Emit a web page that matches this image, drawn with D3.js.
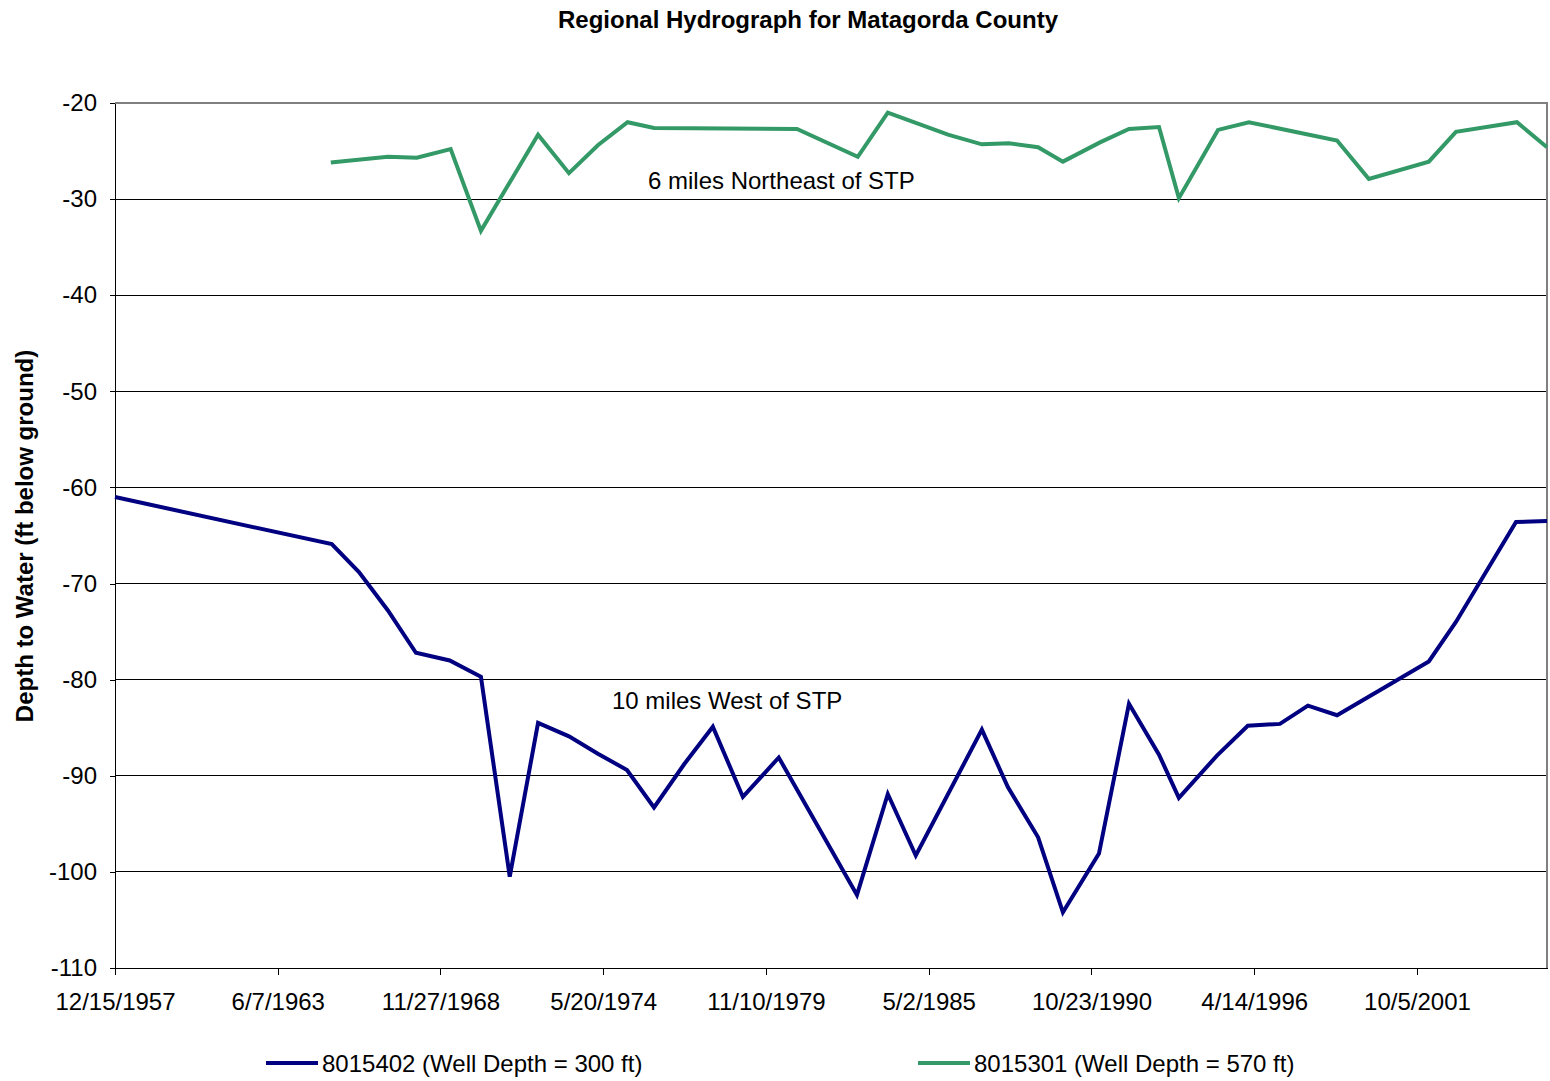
<!DOCTYPE html>
<meta charset="utf-8">
<head>
<style>
  body { margin: 0; background: #fff; }
  text { font-family: "Liberation Sans", Arial, sans-serif; fill: #000; }
  .axis path, .axis line { fill: none; stroke: #000; shape-rendering: crispEdges; }
  .grid line { stroke: #000; shape-rendering: crispEdges; }
</style>
</head>
<body>
<script src="https://cdnjs.cloudflare.com/ajax/libs/d3/7.8.5/d3.min.js"></script>
<script>

// well 8015402 (10 miles West of STP)
const westDates = ["1957-12-15","1965-04-01","1966-03-01","1967-02-20","1968-01-30","1969-03-20",
  "1970-04-08","1971-03-28","1972-03-10","1973-03-25","1974-03-15","1975-03-08","1976-02-03",
  "1977-02-07","1978-01-26","1979-01-30","1980-04-15","1982-12-02","1983-12-16","1984-11-24",
  "1987-02-14","1988-01-01","1989-01-05","1989-11-06","1991-01-23","1992-01-27","1993-01-30",
  "1993-10-01","1995-01-12","1996-01-26","1997-02-24","1998-02-03","1999-01-27","2002-02-28",
  "2003-01-27","2005-02-03","2006-02-19"];
const westDepth = [-61.0,-65.9,-68.8,-72.8,-77.2,-78.0,-79.7,-100.5,-84.5,-85.9,-87.7,-89.4,-93.3,
  -88.8,-84.9,-92.2,-88.1,-102.4,-91.9,-98.3,-85.2,-91.2,-96.4,-104.2,-98.1,-82.5,-87.8,-92.3,
  -87.9,-84.8,-84.6,-82.7,-83.7,-78.1,-74.0,-63.6,-63.5];

// well 8015301 (6 miles Northeast of STP)
const neDates = ["1965-03-20","1967-02-20","1968-02-10","1969-04-01","1970-04-08","1972-03-10",
  "1973-03-25","1974-03-15","1975-03-15","1976-02-03","1980-11-25","1982-12-12","1983-12-16",
  "1985-12-25","1987-02-14","1988-01-12","1989-01-05","1989-11-06","1991-02-05","1992-01-27",
  "1993-01-30","1993-10-01","1995-01-25","1996-02-08","1999-01-27","2000-02-22","2002-02-28",
  "2003-01-27","2005-02-15","2006-02-19"];
const neDepth = [-26.2,-25.6,-25.7,-24.8,-33.3,-23.3,-27.3,-24.4,-22.0,-22.6,-22.7,-25.6,-21.0,
  -23.3,-24.3,-24.2,-24.6,-26.1,-24.1,-22.7,-22.5,-29.9,-22.8,-22.0,-23.9,-27.9,-26.1,-23.0,
  -22.0,-24.6];

const yTicks = [-20,-30,-40,-50,-60,-70,-80,-90,-100,-110];
const xStart = "1957-12-15", xEnd = "2006-02-19", xStepDays = 2000;

const seriesNames = ["8015402 (Well Depth = 300 ft)", "8015301 (Well Depth = 570 ft)"];
const colors = ["#000080", "#339966"];

const parse = d3.utcParse("%Y-%m-%d");
const fmt = d3.utcFormat("%-m/%-d/%Y");

const margin = {top: 103, right: 3, bottom: 113, left: 115},
    width = 1550 - margin.left - margin.right,
    height = 1081 - margin.top - margin.bottom;

const svg = d3.select("body").append("svg")
    .attr("width", 1550)
    .attr("height", 1081);

const g = svg.append("g")
    .attr("transform", "translate(" + margin.left + "," + margin.top + ")");

const x = d3.scaleUtc().domain([parse(xStart), parse(xEnd)]).range([0, width]);
const y = d3.scaleLinear().domain([-110, -20]).range([height, 0]);

const xTicks = [];
for (let d = parse(xStart); d < parse(xEnd); d = d3.utcDay.offset(d, xStepDays)) xTicks.push(d);

// gridlines
g.append("g").attr("class", "grid")
  .selectAll("line")
  .data(yTicks.slice(0, -1))
  .join("line")
    .attr("x1", 0).attr("x2", width)
    .attr("y1", d => y(d)).attr("y2", d => y(d));

// plot border top/right
g.append("path")
    .attr("d", `M0,0H${width}V${height}`)
    .attr("fill", "none")
    .attr("stroke", "#808080")
    .attr("stroke-width", 2)
    .attr("shape-rendering", "crispEdges");

const xAxis = g.append("g").attr("class", "axis")
    .attr("transform", "translate(0," + height + ")")
    .call(d3.axisBottom(x).tickValues(xTicks).tickFormat(fmt).tickSize(7).tickSizeOuter(0).tickPadding(18));
xAxis.selectAll("text").style("font-size", "24px");

const yAxis = g.append("g").attr("class", "axis")
    .call(d3.axisLeft(y).tickValues(yTicks).tickFormat(d => String(d)).tickSize(5).tickSizeOuter(0).tickPadding(13));
yAxis.selectAll("text").style("font-size", "24px");

// lines
const line = d3.line().x(d => x(d.date)).y(d => y(d.value));
const series = [
  westDates.map((d, i) => ({date: parse(d), value: westDepth[i]})),
  neDates.map((d, i) => ({date: parse(d), value: neDepth[i]}))
];
g.selectAll(".series")
  .data(series)
  .join("path")
    .attr("class", "series")
    .attr("fill", "none")
    .attr("stroke", (d, i) => colors[i])
    .attr("stroke-width", 4)
    .attr("stroke-linejoin", "miter")
    .attr("d", line);

// annotations
svg.append("text").attr("x", 648).attr("y", 189)
    .style("font-size", "24px").text("6 miles Northeast of STP");
svg.append("text").attr("x", 612).attr("y", 709)
    .style("font-size", "24px").text("10 miles West of STP");

// title
svg.append("text").attr("x", 808).attr("y", 28)
    .attr("text-anchor", "middle")
    .style("font-size", "24px").style("font-weight", "bold")
    .text("Regional Hydrograph for Matagorda County");

// y label
svg.append("text")
    .attr("transform", "translate(33,536) rotate(-90)")
    .attr("text-anchor", "middle")
    .style("font-size", "24px").style("font-weight", "bold")
    .text("Depth to Water (ft below ground)");

// legend
const legendX = [266, 918];
const legend = svg.selectAll(".legend")
  .data(seriesNames)
  .join("g")
    .attr("class", "legend")
    .attr("transform", (d, i) => "translate(" + legendX[i] + ",1063)");
legend.append("line")
    .attr("x1", 0).attr("x2", 52)
    .attr("stroke", (d, i) => colors[i])
    .attr("stroke-width", 4);
legend.append("text")
    .attr("x", 56).attr("dy", "0.36em")
    .style("font-size", "24px")
    .text(d => d);

</script>
</body>
